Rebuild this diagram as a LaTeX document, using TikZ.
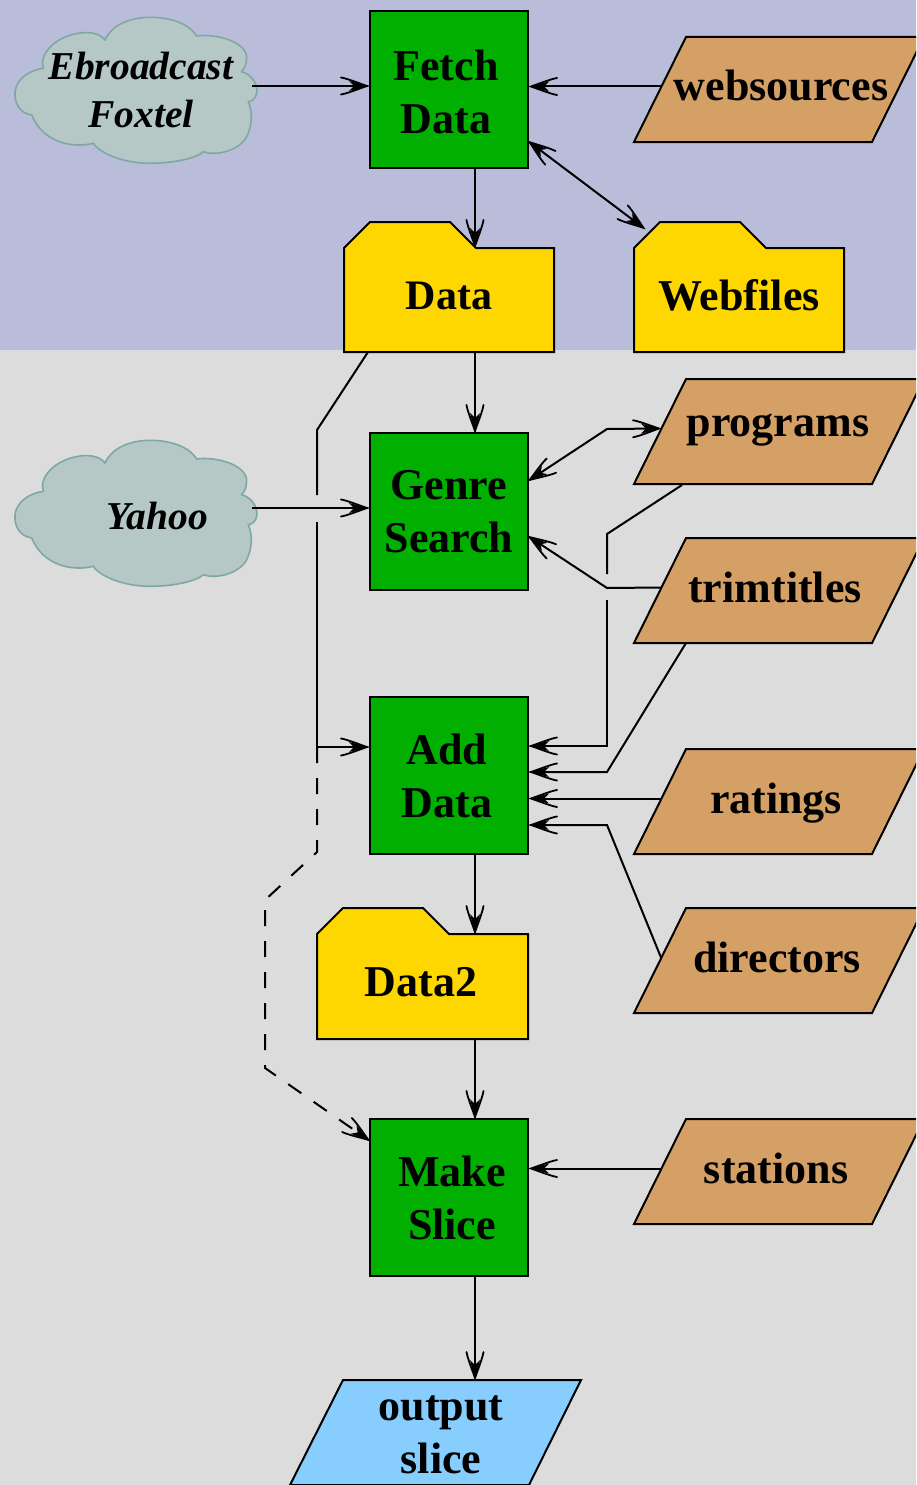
\documentclass[tikz,border=0pt]{standalone}
\usepackage{fontspec}
\setmainfont{Liberation Serif}
\usetikzlibrary{arrows.meta}
\definecolor{bgtop}{HTML}{B9BDD9}
\definecolor{bglow}{HTML}{DCDCDC}
\definecolor{procgreen}{HTML}{00AF00}
\definecolor{tan}{HTML}{D5A065}
\definecolor{folderyellow}{HTML}{FFD700}
\definecolor{outblue}{HTML}{87CEFF}
\definecolor{cloudfill}{HTML}{B5C8C6}
\definecolor{cloudline}{HTML}{7FA8A4}
\pgfdeclarearrow{
  name=Dart,
  setup code={%
    \pgfarrowssettipend{0pt}%
    \pgfarrowssetbackend{-28pt}%
    \pgfarrowssetlineend{-12pt}%
    \pgfarrowssetvisualbackend{-12pt}%
    \pgfarrowshullpoint{0pt}{0pt}%
    \pgfarrowshullpoint{-28pt}{9pt}%
    \pgfarrowshullpoint{-28pt}{-9pt}%
  },
  drawing code={%
    \pgfsetdash{}{0pt}%
    \pgfsetlinewidth{1.8pt}%
    \pgfsetroundcap
    \pgfpathmoveto{\pgfpoint{-28pt}{8.5pt}}%
    \pgfpathcurveto{\pgfpoint{-22pt}{7.5pt}}{\pgfpoint{-12pt}{3.5pt}}{\pgfpoint{-2pt}{0pt}}%
    \pgfpathcurveto{\pgfpoint{-12pt}{-3.5pt}}{\pgfpoint{-22pt}{-7.5pt}}{\pgfpoint{-28pt}{-8.5pt}}%
    \pgfusepathqstroke
    \pgfpathmoveto{\pgfpoint{0pt}{0pt}}%
    \pgfpathlineto{\pgfpoint{-20pt}{5pt}}%
    \pgfpathlineto{\pgfpoint{-15pt}{0pt}}%
    \pgfpathlineto{\pgfpoint{-20pt}{-5pt}}%
    \pgfpathclose
    \pgfusepathqfill
  }
}
\tikzset{
  conn/.style={line width=2pt,black,line join=miter},
  arr/.style={conn,-{Dart}},
  arrs/.style={conn,{Dart}-{Dart}},
  dashline/.style={conn,dash pattern=on 16pt off 15pt,-{Dart}},
  procbox/.style={draw=black,line width=2pt,fill=procgreen,minimum width=158pt,minimum height=157pt,inner sep=0pt},
  ioshape/.style={draw=black,line width=2pt,fill=tan,line join=miter},
  foldershape/.style={draw=black,line width=2pt,fill=folderyellow,line join=miter},
  cloudshape/.style={draw=cloudline,line width=1.6pt,fill=cloudfill},
  btext/.style={font=\fontsize{44}{53}\selectfont\bfseries,align=center,inner sep=0pt,text=black},
  itext/.style={font=\fontsize{39.5}{48}\selectfont\bfseries\itshape,align=center,inner sep=0pt,text=black},
  iotext/.style={btext,text height=33pt,text depth=10pt},
}
% name, top y, text x, text
\newcommand\ioflow[4]{%
  \draw[ioshape] (686,#2) -- ++(238,0) -- ++(-52,105) -- ++(-238,0) -- cycle;
  \path (#3,#2) ++(0,52.5) node[iotext] (#1) {#4};
  \path (661,#2) ++(0,49.5) coordinate (#1-w);
}
\newcommand\foldershapeat[5]{%
  \path[foldershape] (#1,#4) -- ++(0,-#5) -- ++(26,-26) -- ++(80,0) -- ++(26,26) -- (#3,{#2+26}) -- (#3,#4) -- cycle;
}
\newcommand\cloudat[1]{%
  \begin{scope}[shift={(0,#1)},x=0.3333pt,y=-0.3333pt]
  \path[cloudshape] (130,205)
    .. controls (115,165) and (165,105) .. (250,98)
    .. controls (280,96) and (305,105) .. (315,120)
    .. controls (335,75) and (390,52) .. (450,52)
    .. controls (520,52) and (570,75) .. (590,108)
    .. controls (650,100) and (735,125) .. (740,170)
    .. controls (740,190) and (735,205) .. (725,215)
    .. controls (760,225) and (775,260) .. (770,280)
    .. controls (768,295) and (755,305) .. (745,305)
    .. controls (760,340) and (755,380) .. (740,410)
    .. controls (720,450) and (650,470) .. (610,455)
    .. controls (590,475) and (520,490) .. (450,490)
    .. controls (370,490) and (300,460) .. (280,430)
    .. controls (220,445) and (130,430) .. (95,345)
    .. controls (60,340) and (42,310) .. (45,275)
    .. controls (50,235) and (90,210) .. (130,205) -- cycle;
  \end{scope}
}
\begin{document}
\begin{tikzpicture}[x=1pt,y=-1pt]
\useasboundingbox (0,0) rectangle (916,1485);
\clip (0,0) rectangle (916,1485);
\fill[bgtop] (0,0) rectangle (916,350);
\fill[bglow] (0,350) rectangle (916,1485);

% clouds
\cloudat{0}
\cloudat{423}
\node[itext] (ebroadcast) at (141,90) {Ebroadcast\\Foxtel};
\node[itext] (yahoo) at (157,516) {Yahoo};
\coordinate (ebroadcast-e) at (252,86);
\coordinate (yahoo-e) at (252,508);

% process boxes
\node[procbox] (fetch) at (449,89.5) {};
\node[procbox] (genre) at (449,511.5) {};
\node[procbox] (adddata) at (449,775.5) {};
\node[procbox] (slice) at (449,1197.5) {};
\node[btext] (fetch-t) at (446,92) {Fetch\\Data};
\node[btext] (genre-t) at (449,512) {Genre\\Search};
\node[btext] (adddata-t) at (447,776) {Add\\Data};
\node[btext] (slice-t) at (452,1198) {Make\\Slice};

% folders
\foldershapeat{344}{222}{554}{352}{104}
\node[btext,font=\fontsize{42}{53}\selectfont\bfseries] (data) at (449,296) {Data};
\foldershapeat{634}{222}{844}{352}{104}
\node[btext] (webfiles) at (739,295) {Webfiles};
\foldershapeat{317}{908}{528}{1039}{105}
\node[btext] (data2) at (421,982) {Data2};

% data parallelograms
\ioflow{websources}{37}{781}{websources}
\ioflow{programs}{379}{778}{\raisebox{7pt}{programs}}
\ioflow{trimtitles}{538}{775}{trimtitles}
\ioflow{ratings}{749}{776}{ratings}
\ioflow{directors}{908}{777}{directors}
\ioflow{stations}{1119}{776}{stations}
\draw[ioshape,fill=outblue] (343,1380) -- ++(238,0) -- ++(-52,105) -- ++(-239,0) -- cycle;
\node[btext] (output) at (441,1435) {output\\slice};

% port coordinates
\coordinate (data-b) at (368,352);
\coordinate (data-bend) at (317,430);
\coordinate (gapA) at (317,495);
\coordinate (gapB) at (317,522);
\coordinate (junction) at (317,747);
\coordinate (dashA) at (317,852);
\coordinate (dashB) at (265,900);
\coordinate (dashC) at (265,1068);
\coordinate (slice-w) at (370,1141);
\coordinate (prog-low) at (682,485);
\coordinate (prog-bend) at (607,534);
\coordinate (gapC) at (607,574);
\coordinate (gapD) at (607,600);
\coordinate (prog-turn) at (607,746);
\coordinate (prog-top) at (607,429);
\coordinate (trim-bend) at (607,588);
\coordinate (trim-low) at (686,643);
\coordinate (trim-turn) at (607,772);
\coordinate (dir-turn) at (607,825);
\coordinate (webf-in) at (645,229);
\coordinate (fetch-b) at (475,167);
\coordinate (data-top) at (475,248);
\coordinate (data-out) at (475,352);
\coordinate (genre-top) at (475,433);
\coordinate (fetch-se) at (528,141);
\coordinate (genre-up) at (528,481);
\coordinate (genre-lo) at (528,536);
\coordinate (add-b) at (475,854);
\coordinate (data2-top) at (475,934);
\coordinate (data2-b) at (475,1039);
\coordinate (slice-top) at (475,1119);
\coordinate (slice-b) at (475,1276);
\coordinate (output-top) at (475,1380);

% connectors
\draw[arr] (ebroadcast-e) -- (ebroadcast-e -| fetch.west);
\draw[arr] (websources-w) -- (websources-w -| fetch.east);
\draw[arr] (fetch-b) -- (data-top);
\draw[arrs] (fetch-se) -- (webf-in);
\draw[arr] (data-out) -- (genre-top);
\draw[arr] (yahoo-e) -- (yahoo-e -| genre.west);
\draw[arrs] (programs-w) -- (prog-top) -- (genre-up);
\draw[conn] (prog-low) -- (prog-bend) -- (gapC);
\draw[arr] (gapD) -- (prog-turn) -- (prog-turn -| adddata.east);
\draw[arr] (trimtitles-w) -- (trim-bend) -- (genre-lo);
\draw[arr] (trim-low) -- (trim-turn) -- (trim-turn -| adddata.east);
\draw[arr] (ratings-w) -- (ratings-w -| adddata.east);
\draw[arr] (directors-w) -- (dir-turn) -- (dir-turn -| adddata.east);
\draw[conn] (data-b) -- (data-bend) -- (gapA);
\draw[conn] (gapB) -- (junction);
\draw[arr] (junction) -- (junction -| adddata.west);
\draw[dashline] (junction) -- (dashA) -- (dashB) -- (dashC) -- (slice-w);
\draw[arr] (add-b) -- (data2-top);
\draw[arr] (data2-b) -- (slice-top);
\draw[arr] (stations-w) -- (stations-w -| slice.east);
\draw[arr] (slice-b) -- (output-top);
\end{tikzpicture}
\end{document}
